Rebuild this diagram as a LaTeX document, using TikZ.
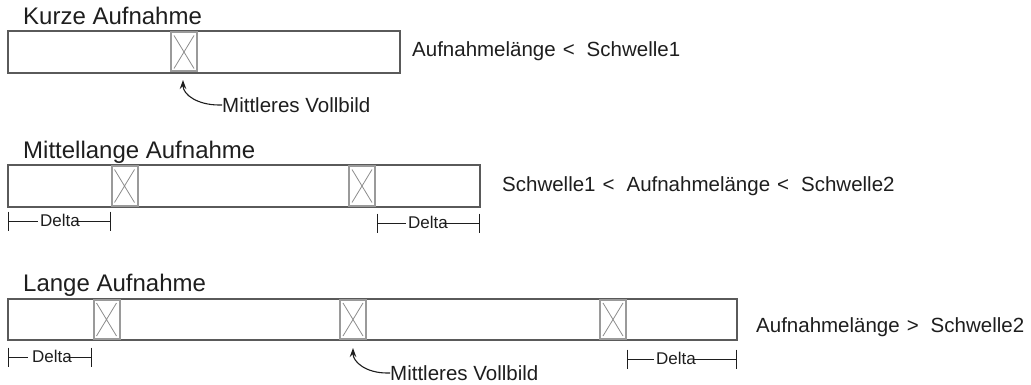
\documentclass[tikz,border=0pt]{standalone}
\usepackage{fontspec}
\setmainfont{Liberation Sans}
\usetikzlibrary{arrows.meta}
\definecolor{barc}{HTML}{5A5A5A}
\definecolor{framec}{HTML}{9A9A9A}
\definecolor{crossc}{HTML}{8C8C8C}
\definecolor{txt}{HTML}{1E1E1E}
\newcommand{\lt}{\hspace{7pt}<\hspace{12pt}}
\newcommand{\gt}{\hspace{7pt}>\hspace{12pt}}
\begin{document}
\begin{tikzpicture}[x=1pt,y=-1pt,
  bar/.style={draw=barc, line width=1.2pt, inner sep=0pt, outer sep=0pt, anchor=north west},
  frame/.style={draw=framec, line width=2pt, inner sep=0pt, outer sep=0pt,
    minimum width=26, minimum height=39,
    path picture={\draw[crossc, line width=0.8pt]
      ([xshift=3pt,yshift=-3pt]path picture bounding box.north west) --
      ([xshift=-3pt,yshift=3pt]path picture bounding box.south east)
      ([xshift=-3pt,yshift=-3pt]path picture bounding box.north east) --
      ([xshift=3pt,yshift=3pt]path picture bounding box.south west);}},
  title/.style={text=txt, inner sep=0pt, anchor=base west, font=\fontsize{24}{28}\selectfont},
  cond/.style={text=txt, inner sep=0pt, anchor=base west, font=\fontsize{20.5}{24}\selectfont},
  keyframe/.style={text=txt, inner sep=0pt, anchor=west, font=\fontsize{20.5}{24}\selectfont},
  deltalbl/.style={text=txt, inner sep=0pt, anchor=base west, font=\fontsize{17}{20}\selectfont},
  dline/.style={draw=txt, line width=1pt},
  pointer/.style={draw=txt, line width=1.1pt, -{Stealth[length=9pt,width=6.5pt]}}
]
\useasboundingbox (0,0) rectangle (1031,385);

% ---------- short take ----------
\node[title] (t1) at (23,25) {Kurze Aufnahme};
\node[bar, minimum width=392, minimum height=42] (b1) at (8,31) {};
\node[frame] (f1) at (184,52) {};
\node[cond] (c1) at (412,57) {Aufnahmelänge\lt Schwelle1};
\node[keyframe] (m1) at (222,105) {Mittleres Vollbild};
\coordinate (p1) at (183,80);
\draw[pointer] (m1.west) -- ([xshift=-3pt]m1.west)
  .. controls ([xshift=-24pt]m1.west) and ([yshift=-15pt]p1) .. (p1);

% ---------- medium take ----------
\node[title] (t2) at (23,159) {Mittellange Aufnahme};
\node[bar, minimum width=472, minimum height=42] (b2) at (8,165) {};
\node[frame] (f2a) at (124.5,186) {};
\node[frame] (f2b) at (362,186) {};
\node[cond] (c2) at (502,192) {Schwelle1\lt Aufnahmelänge\lt Schwelle2};

% delta spans: tick ends, label sitting 5pt below the measuring line
\coordinate (d2aL) at (8,221);
\coordinate (d2aR) at (110,221);
\node[deltalbl] (d2a) at (40,226) {Delta};
\draw[dline] ([yshift=9.5pt]d2aL) -- ([yshift=-9.5pt]d2aL);
\draw[dline] ([yshift=9.5pt]d2aR) -- ([yshift=-9.5pt]d2aR);
\draw[dline] (d2aL) -- ([xshift=-2pt,yshift=5pt]d2a.base west);
\draw[dline] ([xshift=-5pt,yshift=5pt]d2a.base east) -- (d2aR);

\coordinate (d2bL) at (377,223);
\coordinate (d2bR) at (479,223);
\node[deltalbl] (d2b) at (408,228) {Delta};
\draw[dline] ([yshift=9.5pt]d2bL) -- ([yshift=-9.5pt]d2bL);
\draw[dline] ([yshift=9.5pt]d2bR) -- ([yshift=-9.5pt]d2bR);
\draw[dline] (d2bL) -- ([xshift=-2pt,yshift=5pt]d2b.base west);
\draw[dline] ([xshift=-5pt,yshift=5pt]d2b.base east) -- (d2bR);

% ---------- long take ----------
\node[title] (t3) at (23,291) {Lange Aufnahme};
\node[bar, minimum width=729, minimum height=41] (b3) at (8,299) {};
\node[frame] (f3a) at (106.5,319.5) {};
\node[frame] (f3b) at (353,319.5) {};
\node[frame] (f3c) at (613,319.5) {};
\node[cond] (c3) at (756,332) {Aufnahmelänge\gt Schwelle2};
\node[keyframe] (m3) at (390,373) {Mittleres Vollbild};
\coordinate (p3) at (353,348);
\draw[pointer] (m3.west) -- ([xshift=-3pt]m3.west)
  .. controls ([xshift=-24pt]m3.west) and ([yshift=-14pt]p3) .. (p3);

\coordinate (d3aL) at (8,357);
\coordinate (d3aR) at (91,357);
\node[deltalbl] (d3a) at (32,362) {Delta};
\draw[dline] ([yshift=9.5pt]d3aL) -- ([yshift=-9.5pt]d3aL);
\draw[dline] ([yshift=9.5pt]d3aR) -- ([yshift=-9.5pt]d3aR);
\draw[dline] (d3aL) -- ([xshift=-4pt,yshift=5pt]d3a.base west);
\draw[dline] ([xshift=-5pt,yshift=5pt]d3a.base east) -- (d3aR);

\coordinate (d3bL) at (627,359);
\coordinate (d3bR) at (736,359);
\node[deltalbl] (d3b) at (656,364) {Delta};
\draw[dline] ([yshift=9.5pt]d3bL) -- ([yshift=-9.5pt]d3bL);
\draw[dline] ([yshift=9.5pt]d3bR) -- ([yshift=-9.5pt]d3bR);
\draw[dline] (d3bL) -- ([xshift=-2pt,yshift=5pt]d3b.base west);
\draw[dline] ([xshift=-3pt,yshift=5pt]d3b.base east) -- (d3bR);
\end{tikzpicture}
\end{document}
